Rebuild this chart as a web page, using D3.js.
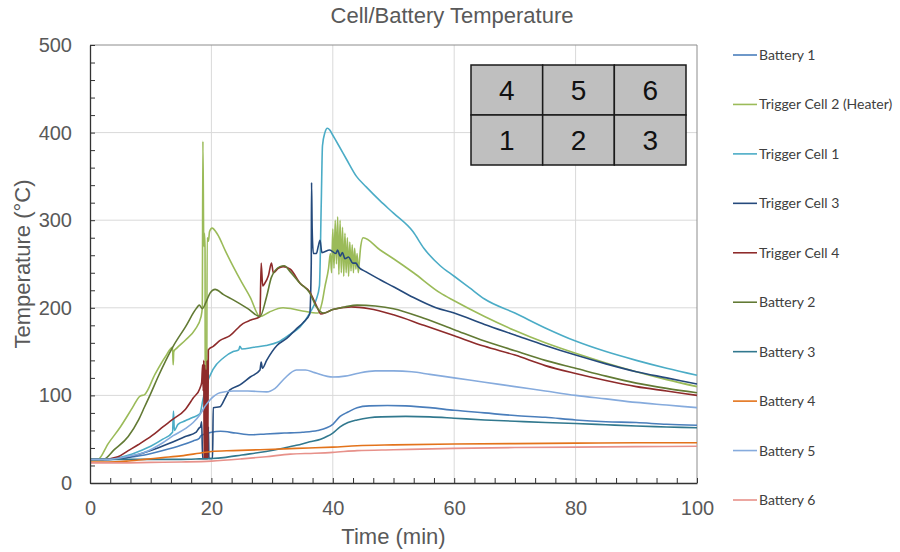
<!DOCTYPE html>
<html><head><meta charset="utf-8">
<script src="https://cdn.jsdelivr.net/npm/d3@7"></script>
<style>body{margin:0;background:#fff}svg{display:block}</style>
</head><body><svg id="chart" width="900" height="552"></svg>
<script>
// ---------- DATA (time in min, temperature in °C) ----------
const seriesNames = ["Battery 1","Trigger Cell 2 (Heater)","Trigger Cell 1","Trigger Cell 3","Trigger Cell 4","Battery 2","Battery 3","Battery 4","Battery 5","Battery 6"];
const seriesColors = ["#4a7ebb","#9bbb59","#4bacc6","#254a7c","#8e2b2b","#627a34","#31788e","#e3731b","#86abdd","#e7918a"];

const battery1 = [[0,27],[3,27],[6,29],[9,32],[12,37],[15,43],[17,48],[18,51],[18.3,54],[19,56],[20,58],[21.5,59],[24,57],[26.5,55],[29,56],[32,57],[35,58],[37.5,60],[39,63],[40,67],[41.2,76],[42.5,81],[44,86],[46,88],[49,88.5],[52,88],[56,86],[60,83],[65,80],[70,77],[75,75],[80,72],[85,70],[90,69],[95,67],[100,66]];

const triggerCell2 = [[0,27],[1.3,27],[3,45],[5,64],[7,86],[8.2,99],[9,101],[10.7,124],[12.5,145],[13.6,155],[13.7,135],[13.8,150],[14.3,154],[15.7,163],[17.3,175],[18.3,190],[18.5,200],[18.6,390],[18.75,270],[18.85,285],[18.95,268],[19.0,28],[19.2,28],[19.3,280],[19.5,276],[19.7,287],[20.1,291],[21,284],[22.3,265],[23.6,247],[25,229],[26.4,212],[28,190],[29.5,195],[31.8,200],[34.6,197],[37.6,194],[38.2,205],[38.7,224],[39.3,245],[39.6,262],[39.8,240],[40.0,290],[40.2,245],[40.4,300],[40.6,250],[40.8,304],[41.0,238],[41.2,300],[41.4,240],[41.6,292],[41.8,236],[42.0,285],[42.2,240],[42.4,280],[42.6,236],[42.8,275],[43.0,242],[43.2,272],[43.4,240],[43.6,268],[43.8,244],[44.0,262],[44.2,240],[44.4,255],[44.6,270],[45,280],[47.8,266],[50,256],[53.3,240],[57.7,217],[60,208],[65,190],[70,174],[75,160],[80,148],[85,137],[90,127],[95,118],[100,110]];

const triggerCell1 = [[0,27],[3,27],[6,31],[8,36],[10,42],[12,50],[13.6,58],[13.75,82],[13.9,60],[14.5,67],[15.7,71],[17,75],[18.1,79],[18.6,95],[19.2,112],[20.3,130],[22,143],[23.6,150],[24.5,152],[24.7,156],[25,153],[27,155],[29,157],[31,161],[33,170],[34.6,178],[36.2,194],[37.3,210],[37.8,225],[38.1,320],[38.3,385],[38.7,400],[39.1,405],[39.5,403],[40,397],[41,385],[42.3,369],[43.9,350],[45.5,338],[47.8,322],[50,308],[53.2,287],[55,268],[57.7,248],[60,236],[62.5,223],[65,210],[70,194],[75,177],[80,162],[85,150],[90,140],[95,131],[100,123]];

const triggerCell3 = [[0,27],[3,27],[6,29],[10,37],[13,45],[15.7,53],[17.5,58],[18.0,63],[18.2,64],[18.4,70],[18.55,28],[19.4,28],[19.5,64],[19.6,28],[20.2,28],[20.3,86],[21.4,87],[22.2,96],[23,106],[24.7,112],[26.4,121],[28,129],[28.2,138],[28.4,131],[29.1,140],[30.8,157],[32.4,165],[34,176],[35.1,183],[36.2,193],[36.45,250],[36.5,343],[36.6,290],[36.8,262],[37.3,262],[37.6,270],[37.9,277],[38.2,263],[39.5,266],[40.5,262],[40.8,266],[41.2,259],[41.6,263],[42,256],[42.6,258],[43.3,251],[43.8,251],[44.2,247],[45.5,241],[47.8,232],[50,224],[53.2,212],[57,200],[60,194],[65,181],[70,169],[75,157],[80,146],[85,136],[90,127],[95,120],[100,113]];

const triggerCell4 = [[0,27],[2,27],[4.6,30],[6.3,37],[8,44],[10.2,54],[12,64],[13.5,72],[15.7,84],[17,97],[18.1,108],[18.4,115],[18.55,135],[18.65,105],[18.75,140],[18.8,28],[18.9,135],[19.0,28],[19.1,130],[19.2,28],[19.3,140],[19.4,28],[19.5,152],[20.3,156],[21.5,163],[23,168],[25.2,182],[26.5,186],[28,190],[28.2,251],[28.45,225],[28.8,228],[29.4,237],[29.9,251],[30.2,240],[31,245],[31.8,247],[33,244],[34.6,228],[36.2,218],[37,207],[37.6,198],[38,193],[39,195],[40,198],[43,201],[46,199],[50,192],[55,180],[60,168],[65,156],[70,146],[75,134],[80,125],[85,117],[90,110],[95,105],[100,100]];

const battery2 = [[0,27],[2.2,27],[4,38],[6.3,53],[8,72],[9,87],[10,102],[11.2,121],[12.5,140],[13.7,156],[15.7,178],[17.6,200],[18,203],[18.5,199],[19.2,208],[19.8,217],[20.6,221],[22,215],[23.6,209],[26,199],[28,190],[29.1,213],[29.9,235],[31.3,247],[32,248],[33,241],[34.6,228],[36.2,217],[37.3,201],[37.9,196],[38.5,194],[40,198],[42,201],[44,203],[47,202],[50,199],[55,188],[60,175],[65,162],[70,151],[75,140],[80,131],[85,122],[90,114],[95,108],[100,103]];

const battery3 = [[0,27],[5,27],[10,27],[15,27],[18,27.5],[20,28],[22,29],[25,32],[29,36],[32,40],[34,43],[36.2,47],[38,50],[39,53],[40,57],[41.2,64],[42.5,69],[44,72],[46,74.5],[48,75.5],[52,76],[56,75.5],[60,74],[65,72],[70,70.5],[75,69],[80,68],[85,66.5],[90,65],[95,64],[100,63]];

const battery4 = [[0,24],[3,24],[6,25],[9,27],[12,29],[15,31],[18,34],[20,36],[23.6,37],[28,38],[32,39],[36,40],[40,41],[44,42.5],[50,43.5],[60,44.5],[70,45],[80,45.5],[90,46],[100,46]];

const battery5 = [[0,27],[3,27],[6,30],[9,35],[12,46],[13.7,54],[15.7,62],[17,69],[18.1,78],[19,88],[19.8,95],[21.4,103],[23.6,105],[26,105],[29.1,104],[30.5,108],[32,119],[34,129],[35.5,129],[37,126],[40,121],[42,122],[44,125],[47,128],[50,128],[53,127],[56,124],[60,120],[65,115],[70,110],[75,105],[80,100],[85,96],[90,92],[95,89],[100,86]];

const battery6 = [[0,23],[5,23],[10,23.5],[15,24],[20,25],[25,27.5],[29,30],[33,33],[37,34],[40,35],[44,37],[50,38],[60,39.5],[70,40.5],[80,41],[90,41.5],[100,42]];

const seriesValues = [battery1, triggerCell2, triggerCell1, triggerCell3, triggerCell4, battery2, battery3, battery4, battery5, battery6];

const xTickLabels = [0,20,40,60,80,100];
const yTickLabels = [0,100,200,300,400,500];
const packTopRow = ["4","5","6"];
const packBottomRow = ["1","2","3"];

// ---------- DRAW ----------
const svg = d3.select("#chart");
const L = 90, R = 697, T = 45, B = 483;
const x = d3.scaleLinear().domain([0,100]).range([L,R]);
const y = d3.scaleLinear().domain([0,500]).range([B,T]);
const textGray = "#595959";

// gridlines
svg.append("g").selectAll("line").data(yTickLabels.filter(v => v>0 && v<500)).join("line")
  .attr("x1",L).attr("x2",R).attr("y1",d=>y(d)).attr("y2",d=>y(d))
  .attr("stroke","#d9d9d9").attr("stroke-width",1);
svg.append("g").selectAll("line").data(xTickLabels.filter(v => v>0 && v<100)).join("line")
  .attr("y1",T).attr("y2",B).attr("x1",d=>x(d)).attr("x2",d=>x(d))
  .attr("stroke","#d9d9d9").attr("stroke-width",1);

// top/right border
svg.append("path").attr("d",`M${L},${T}H${R}V${B}`).attr("fill","none").attr("stroke","#8c8c8c").attr("stroke-width",1);

// series lines
const line = d3.line().x(d=>x(d[0])).y(d=>y(d[1])).curve(d3.curveMonotoneX);
const plot = svg.append("g");
seriesValues.forEach((vals,i) => {
  plot.append("path").datum(vals).attr("d",line)
    .attr("fill","none").attr("stroke",seriesColors[i]).attr("stroke-width",1.6)
    .attr("stroke-linejoin","round");
});

// minor ticks axes (inward)
const xMinor = d3.range(0,31).map(i => i*100/30);
const yMinor = d3.range(0,26).map(i => i*20);
svg.append("g").attr("transform",`translate(0,${B})`)
  .call(d3.axisBottom(x).tickValues(xMinor).tickSizeInner(-5).tickSizeOuter(0).tickFormat(""))
  .call(g => { g.select(".domain").attr("stroke","#333").attr("stroke-width",1.3); g.selectAll(".tick line").attr("stroke","#333"); });
svg.append("g").attr("transform",`translate(${L},0)`)
  .call(d3.axisLeft(y).tickValues(yMinor).tickSizeInner(-5).tickSizeOuter(0).tickFormat(""))
  .call(g => { g.select(".domain").attr("stroke","#333").attr("stroke-width",1.3); g.selectAll(".tick line").attr("stroke","#333"); });

// tick labels
svg.append("g").attr("transform",`translate(0,${B})`)
  .call(d3.axisBottom(x).tickValues(xTickLabels).tickSize(0).tickPadding(18))
  .call(g => { g.select(".domain").remove(); g.selectAll("text").attr("font-family","'Liberation Sans',Arial,sans-serif").attr("font-size",20).attr("fill",textGray); });
svg.append("g").attr("transform",`translate(${L},0)`)
  .call(d3.axisLeft(y).tickValues(yTickLabels).tickSize(0).tickPadding(18))
  .call(g => { g.select(".domain").remove(); g.selectAll("text").attr("font-family","'Liberation Sans',Arial,sans-serif").attr("font-size",20).attr("fill",textGray); });

// titles
svg.append("text").attr("x",452).attr("y",23).attr("text-anchor","middle")
  .attr("font-family","'Liberation Sans',Arial,sans-serif").attr("font-size",22).attr("fill",textGray)
  .text("Cell/Battery Temperature");
svg.append("text").attr("x",(L+R)/2).attr("y",544).attr("text-anchor","middle")
  .attr("font-family","'Liberation Sans',Arial,sans-serif").attr("font-size",22).attr("fill",textGray)
  .text("Time (min)");
svg.append("text").attr("transform",`translate(30,${(T+B)/2}) rotate(-90)`).attr("text-anchor","middle")
  .attr("font-family","'Liberation Sans',Arial,sans-serif").attr("font-size",22).attr("fill",textGray)
  .text("Temperature (°C)");

// pack layout inset
const inset = svg.append("g");
const cx = d3.scaleBand().domain([0,1,2]).range([471,686]);
const ry = d3.scaleBand().domain([0,1]).range([65,165]);
[packTopRow, packBottomRow].forEach((row,r) => {
  row.forEach((lab,c) => {
    inset.append("rect").attr("x",cx(c)).attr("y",ry(r)).attr("width",cx.bandwidth()).attr("height",ry.bandwidth())
      .attr("fill","#bfbfbf").attr("stroke","#1a1a1a").attr("stroke-width",1.5);
    inset.append("text").attr("x",cx(c)+cx.bandwidth()/2).attr("y",ry(r)+ry.bandwidth()/2+10)
      .attr("text-anchor","middle").attr("font-family","'Liberation Sans',Arial,sans-serif").attr("font-size",28).attr("fill","#111")
      .text(lab);
  });
});

// legend
const lg = svg.append("g");
const ly = d3.scaleLinear().domain([0,9]).range([55,500]);
seriesNames.forEach((name,i) => {
  lg.append("line").attr("x1",733).attr("x2",757).attr("y1",ly(i)).attr("y2",ly(i))
    .attr("stroke",seriesColors[i]).attr("stroke-width",1.6);
  lg.append("text").attr("x",759).attr("y",ly(i)+5).attr("font-family","Lato,'Open Sans',sans-serif")
    .attr("font-size",14).attr("fill","#404040").text(name);
});
</script></body></html>
